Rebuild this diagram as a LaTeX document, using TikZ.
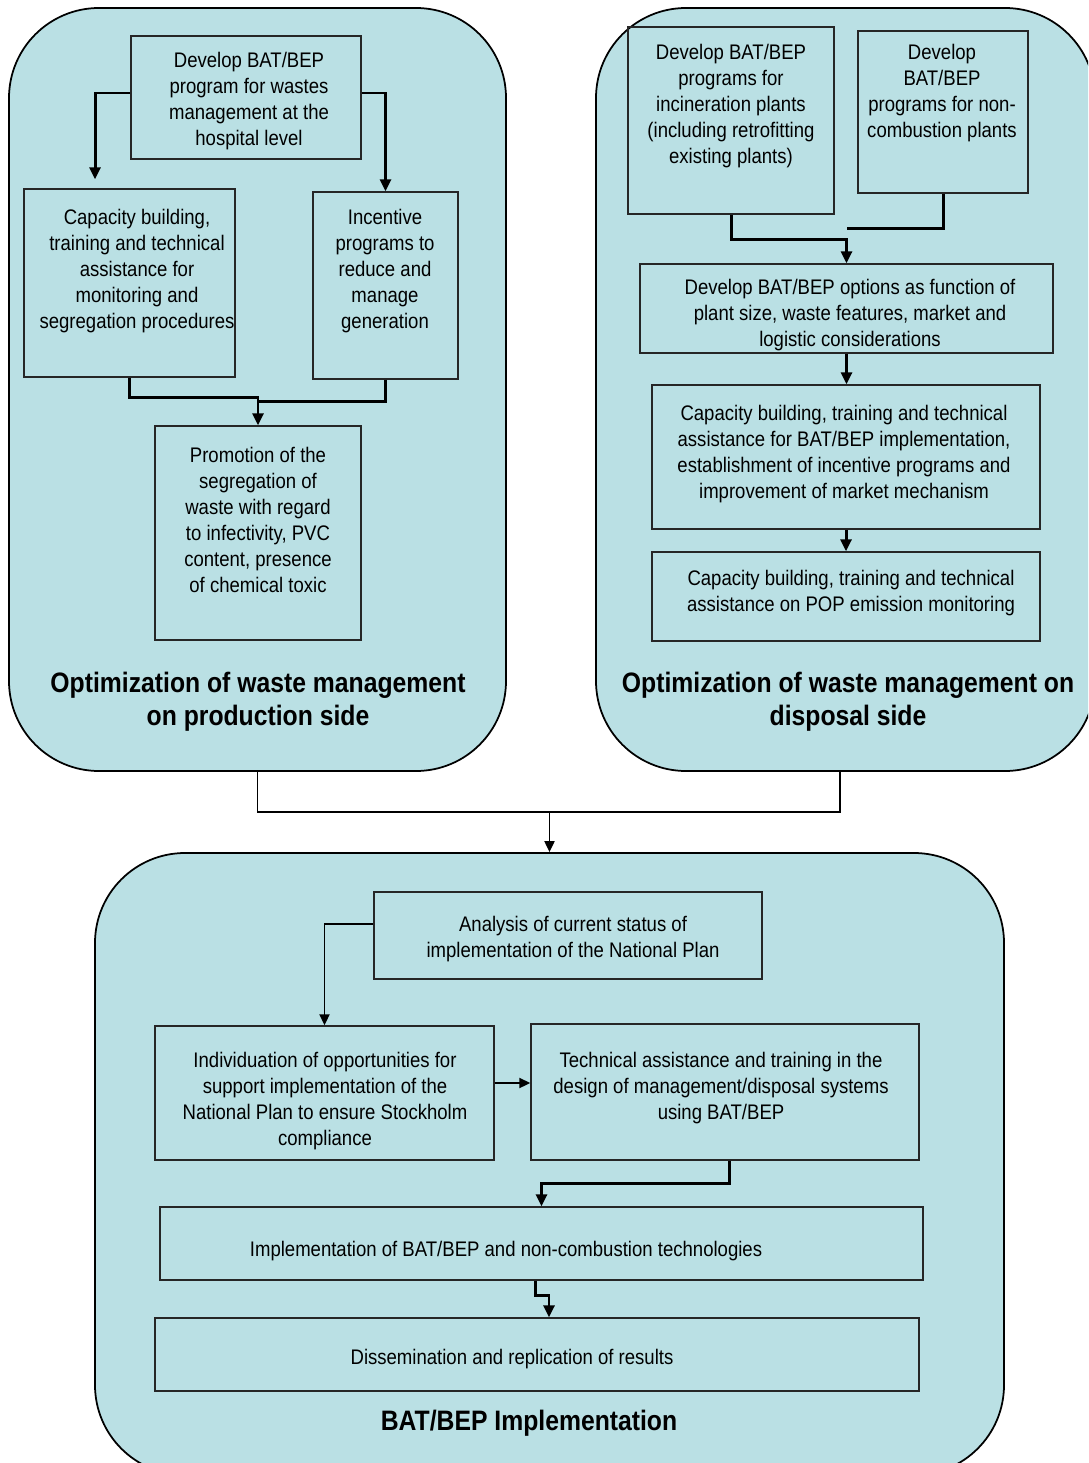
\documentclass[tikz,border=0pt]{standalone}
\usepackage{fontspec}
\setmainfont{Liberation Sans}[FakeStretch=0.88]
\usetikzlibrary{arrows.meta,fit,calc}
\definecolor{panelblue}{RGB}{186,224,228}

\begin{document}
\begin{tikzpicture}[x=0.02cm,y=-0.02cm,
  panel/.style={draw=black,line width=1pt,fill=panelblue,rounded corners=1.8cm,inner sep=0pt},
  box/.style={draw=black!85,line width=0.8pt,inner sep=0pt},
  txt/.style={inner sep=0pt,align=center,yshift=-0.05cm,font=\fontsize{12}{14.8}\selectfont},
  title/.style={inner sep=0pt,align=center,yshift=-0.06cm,font=\fontsize{16}{18.7}\selectfont\bfseries},
  conn/.style={line width=1.7pt,-{Triangle[length=2.4mm,width=2.2mm]}},
  link/.style={line width=1.1pt},
  tip/.style={-{Triangle[length=2.2mm,width=2mm]}}]
\clip (0,0) rectangle (1088,1463);
% the three panels
\node[panel, fit={(9,8) (506,771)}] (prod) {};
\node[panel, fit={(596,8) (1095,771)}] (disp) {};
\node[panel, fit={(95,853) (1004,1475)}] (bat) {};
\draw[link] (prod.south) -- ++(0,40) coordinate (junc) -| ([xshift=-0.11cm]disp.south);
\draw[link,tip] (junc -| bat.north) -- (bat.north);

% production side
\node[box, fit={(131,36) (361,159)}] (devprog) {};
\node[box, fit={(24,189) (235,377)}] (capbld) {};
\node[box, fit={(313,192) (458,379)}] (incent) {};
\node[box, fit={(155,426) (361,640)}] (promo) {};
\node[txt] (tdevprog) at (249,99) {Develop BAT/BEP\\program for wastes\\management at the\\hospital level};
\node[txt] (tcapbld) at (137,269) {Capacity building,\\training and technical\\assistance for\\monitoring and\\segregation procedures};
\node[txt] (tincent) at (385,269) {Incentive\\programs to\\reduce and\\manage\\generation};
\node[txt] (tpromo) at (258,517) {Promotion of the\\segregation of\\waste with regard\\to infectivity, PVC\\content, presence\\of chemical toxic};
\node[title] (tprod) at (258,699) {Optimization of waste management\\on production side};
\draw[conn] ([yshift=0.09cm]devprog.west) -| ([xshift=-0.69cm,yshift=0.18cm]capbld.north);
\draw[conn] ([yshift=0.09cm]devprog.east) -| (incent.north);
\draw[conn] (capbld.south) -- ++(0,20) -| (promo.north);
\draw[conn,-] (incent.south) |- ($(promo.north)+(0,-24)$);

% disposal side
\node[box, fit={(628,27) (834,214)}] (incin) {};
\node[box, fit={(858,31) (1028,193)}] (noncomb) {};
\node[box, fit={(640,264) (1053,353)}] (options) {};
\node[box, fit={(652,385) (1040,529)}] (capimpl) {};
\node[box, fit={(652,552) (1040,641)}] (capmon) {};
\node[txt] (tincin) at (731,104) {Develop BAT/BEP\\programs for\\incineration plants\\(including retrofitting\\existing plants)};
\node[txt] (tnoncomb) at (942,91) {Develop\\BAT/BEP\\programs for non-\\combustion plants};
\node[txt] (toptions) at (850,313) {Develop BAT/BEP options as function of\\plant size, waste features, market and\\logistic considerations};
\node[txt] (tcapimpl) at (844,452) {Capacity building, training and technical\\assistance for BAT/BEP implementation,\\establishment of incentive programs and\\improvement of market mechanism};
\node[txt] (tcapmon) at (851,591) {Capacity building, training and technical\\assistance on POP emission monitoring};
\node[title] (tdisp) at (848,699) {Optimization of waste management on\\disposal side};
\draw[conn] (incin.south) -- ++(0,25) -| (options.north);
\draw[conn,-] (noncomb.south) |- ($(options.north)+(0,-35)$);
\draw[conn] (options.south) -- (options.south |- capimpl.north);
\draw[conn] (capimpl.south) -- (capimpl.south |- capmon.north);

% implementation
\node[box, fit={(374,892) (762,979)}] (status) {};
\node[box, fit={(155,1026) (494,1160)}] (opport) {};
\node[box, fit={(531,1024) (919,1160)}] (techass) {};
\node[box, fit={(160,1207) (923,1280)}] (impl) {};
\node[box, fit={(155,1318) (919,1391)}] (dissem) {};
\node[txt] (tstatus) at (573,937) {Analysis of current status of\\implementation of the National Plan};
\node[txt] (topport) at (325,1099) {Individuation of opportunities for\\support implementation of the\\National Plan to ensure Stockholm\\compliance};
\node[txt] (ttechass) at (721,1086) {Technical assistance and training in the\\design of management/disposal systems\\using BAT/BEP};
\node[txt] (timpl) at (506,1249) {Implementation of BAT/BEP and non-combustion technologies};
\node[txt] (tdissem) at (512,1357) {Dissemination and replication of results};
\node[title] (tbat) at (529,1420) {BAT/BEP Implementation};
\draw[link,tip] ([yshift=0.23cm]status.west) -| (opport.north);
\draw[link,tip] ([yshift=0.2cm]opport.east) coordinate (kout) -- (kout -| techass.west);
\draw[conn] ([xshift=0.08cm]techass.south) -- ++(0,23) -| (impl.north);
\draw[conn] ([xshift=-0.13cm]impl.south) -- ++(0,15) -| ([xshift=0.24cm]dissem.north);
\end{tikzpicture}
\end{document}
